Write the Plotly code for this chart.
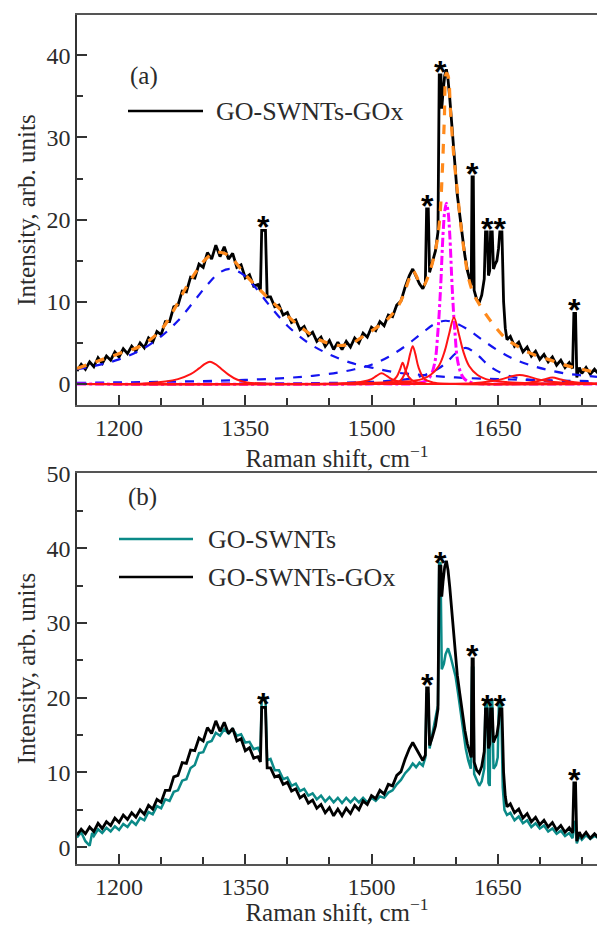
import plotly.graph_objects as go

# ---------------- data: GO-SWNTs-GOx spectrum ----------------
wn_gox = [1150, 1155, 1160, 1165, 1170, 1175, 1180, 1185, 1190, 1195, 1200, 1205, 1210, 1215, 1220,
          1225, 1230, 1235, 1240, 1245, 1250, 1255, 1260, 1265, 1270, 1275, 1280, 1285, 1290, 1295,
          1300, 1305, 1310, 1315, 1320, 1325, 1330, 1335, 1340, 1345, 1350, 1355, 1360, 1365, 1368,
          1369.5, 1374, 1376, 1380, 1385, 1390, 1395, 1400, 1405, 1410, 1415, 1420, 1425, 1430, 1435,
          1440, 1445, 1450, 1455, 1460, 1465, 1470, 1475, 1480, 1485, 1490, 1495, 1500, 1505, 1510,
          1515, 1520, 1525, 1530, 1535, 1540, 1545, 1549, 1553, 1557, 1561, 1564, 1565.5, 1567.5, 1569,
          1572, 1576, 1579, 1580.5, 1582.5, 1583.5, 1585, 1587, 1589, 1591, 1593, 1596, 1599, 1602, 1605,
          1608, 1611, 1614, 1617, 1618.5, 1619.5, 1621, 1622, 1625, 1628, 1631, 1634, 1635.5, 1637.5, 1639,
          1640.5, 1641.5, 1643.5, 1645, 1647, 1649, 1651, 1652.5, 1655, 1657, 1659, 1661, 1665, 1670, 1675,
          1680, 1685, 1690, 1695, 1700, 1705, 1710, 1715, 1720, 1725, 1730, 1735, 1739, 1740.5, 1742.5,
          1744, 1747, 1750, 1755, 1760, 1765, 1770]
int_gox = [1.6, 2.4, 1.8, 2.7, 2.1, 3.2, 2.5, 3.4, 2.9, 3.9, 3.3, 4.3, 3.7, 4.6, 4.0,
           5.0, 4.4, 5.6, 5.1, 6.4, 6.0, 7.6, 7.6, 9.4, 9.6, 11.3, 11.2, 13.0, 12.9, 14.6,
           14.2, 16.0, 15.2, 16.9, 15.5, 16.7, 15.2, 15.9, 14.2, 14.5, 12.9, 13.3, 11.9, 12.1, 11.4,
           18.7, 18.7, 10.6, 10.6, 9.4, 9.6, 8.4, 8.7, 7.5, 7.8, 6.6, 7.0, 5.9, 6.3, 5.2,
           5.7, 4.6, 5.3, 4.2, 5.1, 4.2, 5.2, 4.5, 5.6, 5.0, 6.2, 5.7, 6.9, 6.5, 7.6,
           7.1, 8.4, 8.2, 9.6, 10.1, 11.8, 13.2, 14.0, 13.2, 12.2, 11.6, 12.3, 21.3, 21.3, 13.6,
           14.6, 16.2, 18.5, 37.6, 37.6, 33.5, 35.5, 37.5, 38.3, 37.0, 34.8, 30.5, 26.5, 23.0, 20.5,
           17.8, 15.6, 13.8, 12.6, 12.0, 25.2, 25.2, 11.4, 10.3, 9.9, 10.8, 12.8, 18.5, 18.5, 13.2,
           13.8, 18.5, 18.5, 14.0, 14.6, 15.0, 16.5, 18.5, 18.5, 10.0, 6.8, 5.4, 5.8, 4.6, 5.1,
           3.9, 4.5, 3.4, 4.0, 3.0, 3.6, 2.7, 3.3, 2.3, 2.9, 2.0, 2.6, 1.9, 8.6, 8.6,
           0.8, 2.0, 1.3, 2.0, 1.2, 1.8, 1.2]

# ---------------- data: GO-SWNTs spectrum ----------------
wn_go = [1150, 1155, 1160, 1165, 1168, 1170, 1175, 1180, 1185, 1190, 1195, 1200, 1205, 1210, 1215,
         1220, 1225, 1230, 1235, 1240, 1245, 1250, 1255, 1260, 1265, 1270, 1275, 1280, 1285, 1290,
         1295, 1300, 1305, 1310, 1315, 1320, 1325, 1330, 1335, 1340, 1345, 1350, 1355, 1360, 1365,
         1368, 1369.5, 1374, 1376, 1380, 1385, 1390, 1395, 1400, 1405, 1410, 1415, 1420, 1425, 1430,
         1435, 1440, 1445, 1450, 1455, 1460, 1465, 1470, 1475, 1480, 1485, 1490, 1495, 1500, 1505,
         1510, 1515, 1520, 1525, 1530, 1535, 1540, 1545, 1549, 1553, 1557, 1561, 1564, 1565.5, 1567.5,
         1569, 1572, 1576, 1579, 1580.5, 1582, 1583.5, 1586, 1588, 1591, 1594, 1597, 1600, 1603, 1606,
         1609, 1612, 1615, 1618, 1619.5, 1621, 1622, 1625, 1628, 1631, 1634, 1635.5, 1637.5, 1639, 1640.5,
         1641.5, 1643.5, 1645, 1648, 1650, 1651.5, 1654, 1656, 1658, 1661, 1665, 1670, 1675, 1680, 1685,
         1690, 1695, 1700, 1705, 1710, 1715, 1720, 1725, 1730, 1735, 1739, 1740.5, 1742, 1744, 1747,
         1750, 1755, 1760, 1765, 1770]
int_go = [1.3, 2.0, 0.8, 0.2, 1.9, 1.5, 2.4, 1.9, 2.6, 2.1, 2.8, 2.3, 3.1, 2.7, 3.5,
          3.0, 3.9, 3.6, 4.7, 4.4, 5.5, 5.2, 6.4, 6.2, 7.4, 7.6, 8.9, 9.1, 10.6, 11.0,
          12.6, 12.7, 14.0, 14.2, 15.3, 14.9, 15.8, 15.2, 15.8, 14.9, 15.1, 14.0, 14.1, 13.1, 13.3,
          12.6, 20.0, 20.0, 11.6, 11.8, 10.3, 10.3, 9.1, 9.3, 8.2, 8.5, 7.5, 7.8, 6.9, 7.2,
          6.4, 6.9, 6.1, 6.7, 6.0, 6.6, 5.9, 6.6, 6.0, 6.6, 6.0, 6.6, 6.0, 6.6, 6.2,
          6.8, 6.6, 7.3, 7.6, 8.4, 9.0, 9.9, 10.5, 11.2, 10.7, 11.3, 10.9, 12.0, 20.5, 20.5,
          13.2, 14.8, 17.0, 19.0, 38.0, 38.0, 23.8, 24.5, 25.8, 26.6, 25.5, 24.2, 22.8, 20.5, 17.8,
          15.4, 13.2, 11.6, 10.5, 24.0, 24.0, 9.8, 8.9, 8.2, 8.8, 10.5, 19.6, 19.6, 8.6, 8.2,
          19.6, 19.6, 10.5, 11.0, 12.0, 19.6, 19.6, 8.0, 5.0, 4.3, 4.6, 3.6, 4.1, 3.2, 3.6,
          2.7, 3.2, 2.5, 2.9, 2.1, 2.5, 1.8, 2.2, 1.5, 1.9, 1.2, 3.5, 3.0, 0.5, 1.5,
          1.0, 1.6, 1.1, 1.5, 1.2]

# ---------------- fit: cumulative (orange dashed) ----------------
fit_sum_x = [1150, 1175, 1200, 1225, 1250, 1265, 1280, 1295, 1305, 1315, 1325, 1335, 1350, 1365, 1380,
             1400, 1420, 1440, 1460, 1475, 1490, 1505, 1520, 1530, 1538, 1544, 1549, 1554, 1558, 1562,
             1567, 1572, 1577, 1581, 1584, 1586.5, 1589, 1591, 1594, 1598, 1602, 1606, 1611, 1616, 1622,
             1630, 1640, 1650, 1660, 1675, 1690, 1710, 1730, 1750, 1768]
fit_sum_y = [1.9, 2.8, 3.7, 4.6, 6.6, 9.0, 11.8, 14.2, 15.4, 16.0, 15.9, 15.2, 13.3, 11.7, 10.2,
             8.3, 6.6, 5.3, 4.7, 4.9, 5.8, 6.8, 8.0, 9.2, 10.8, 12.6, 13.8, 13.0, 12.0, 12.0,
             13.0, 14.6, 16.8, 20.0, 25.5, 32.0, 37.8, 37.5, 33.0, 27.5, 23.5, 19.5, 15.5, 12.6, 10.8,
             9.4, 7.9, 6.6, 5.5, 4.5, 3.7, 3.0, 2.3, 1.8, 1.4]

# ---------------- fit: blue dashed components ----------------
blue_d_x = [1150, 1175, 1200, 1225, 1250, 1270, 1290, 1305, 1320, 1332, 1345, 1360, 1380, 1400, 1425,
            1450, 1475, 1500, 1530, 1560, 1600, 1650, 1700, 1768]
blue_d_y = [1.8, 2.3, 3.0, 4.1, 5.8, 7.7, 10.2, 12.1, 13.6, 14.0, 13.5, 12.0, 9.4, 7.1, 5.0,
            3.6, 2.6, 2.0, 1.4, 1.1, 0.8, 0.6, 0.48, 0.33]
blue_g1_x = [1150, 1200, 1250, 1300, 1350, 1400, 1430, 1460, 1480, 1500, 1520, 1540, 1560, 1575, 1588,
             1600, 1615, 1630, 1650, 1670, 1690, 1710, 1730, 1750, 1768]
blue_g1_y = [0.15, 0.2, 0.27, 0.36, 0.5, 0.75, 1.0, 1.4, 1.8, 2.35, 3.3, 4.6, 6.2, 7.3, 7.7,
             7.4, 6.6, 5.5, 4.1, 3.0, 2.25, 1.7, 1.3, 1.05, 0.88]
blue_g2_x = [1150, 1300, 1400, 1450, 1500, 1530, 1550, 1565, 1580, 1590, 1600, 1612, 1625, 1640, 1655,
             1670, 1690, 1720, 1768]
blue_g2_y = [0.02, 0.04, 0.08, 0.13, 0.26, 0.46, 0.75, 1.16, 1.9, 2.72, 3.72, 4.4, 3.62, 2.2, 1.31,
             0.83, 0.5, 0.28, 0.14]

# ---------------- fit: red solid components ----------------
red_1_x = [1150, 1230, 1255, 1270, 1285, 1295, 1302, 1308, 1314, 1321, 1330, 1340, 1352, 1380, 1450, 1768]
red_1_y = [0.0, 0.08, 0.3, 0.6, 1.2, 1.9, 2.45, 2.7, 2.45, 1.9, 1.15, 0.55, 0.2, 0.05, 0.0, 0.0]
red_2_x = [1150, 1450, 1470, 1490, 1500, 1506, 1512, 1518, 1524, 1535, 1560, 1620, 1768]
red_2_y = [0.0, 0.02, 0.1, 0.3, 0.6, 1.0, 1.3, 1.0, 0.6, 0.25, 0.05, 0.0, 0.0]
red_3_x = [1150, 1500, 1515, 1525, 1530, 1534, 1537, 1540, 1544, 1550, 1565, 1600, 1768]
red_3_y = [0.0, 0.02, 0.1, 0.4, 0.9, 1.8, 2.6, 1.8, 0.9, 0.35, 0.05, 0.0, 0.0]
red_4_x = [1150, 1500, 1525, 1535, 1542, 1546, 1549, 1552, 1556, 1563, 1575, 1600, 1768]
red_4_y = [0.0, 0.03, 0.1, 0.5, 2.0, 3.7, 4.6, 3.7, 2.0, 0.6, 0.15, 0.0, 0.0]
red_5_x = [1150, 1450, 1540, 1560, 1570, 1580, 1587, 1592, 1598, 1604, 1609, 1616, 1626, 1636, 1660,
           1700, 1768]
red_5_y = [0.0, 0.05, 0.3, 0.6, 1.1, 2.2, 4.0, 6.0, 8.1, 6.0, 4.0, 2.2, 1.1, 0.6, 0.25,
           0.1, 0.03]
red_6_x = [1150, 1580, 1620, 1640, 1655, 1665, 1676, 1687, 1697, 1712, 1735, 1768]
red_6_y = [0.0, 0.02, 0.1, 0.3, 0.6, 0.9, 1.1, 0.9, 0.6, 0.3, 0.12, 0.05]
red_7_x = [1150, 1640, 1680, 1695, 1705, 1715, 1725, 1735, 1750, 1768]
red_7_y = [0.0, 0.02, 0.1, 0.3, 0.55, 0.8, 0.55, 0.3, 0.12, 0.05]

# ---------------- fit: magenta dash-dot component ----------------
mag_x = [1150, 1500, 1560, 1569, 1575, 1579, 1582, 1585, 1587, 1589, 1591, 1593, 1596, 1599, 1603,
         1609, 1618, 1680, 1768]
mag_y = [0.0, 0.02, 0.2, 0.8, 2.5, 6.5, 11.5, 18.2, 21.0, 22.0, 21.0, 18.2, 11.5, 6.5, 2.5,
         0.8, 0.2, 0.02, 0.0]

# ---------------- starred lines (position, search half-window, label) ----------------
star_x_a = [1372, 1566.5, 1581.5, 1620, 1645, 1741.5]
star_w_a = [3, 2, 2, 2, 11, 2]
star_t_a = ["*", "*", "*", "*", "**", "*"]
star_x_b = [1372, 1566.5, 1581.5, 1620, 1645, 1741.5]
star_w_b = [3, 2, 2, 2, 11, 2]
star_t_b = ["*", "*", "*", "*", "**", "*"]

legend_a = ["GO-SWNTs-GOx"]
legend_b = ["GO-SWNTs", "GO-SWNTs-GOx"]

# ---------------- styles ----------------
SERIF = "Liberation Serif, Times New Roman, serif"
TXT = "#2b2b2b"
BLACK = "#000000"
TEAL = "#0B8A88"
BLUE = "#1414F0"
RED = "#FF1414"
MAG = "#FF00FF"
ORANGE = "#FF8A1C"

fig = go.Figure()

def add(x, y, color, width, dash="solid", shape="linear", xa="x", ya="y"):
    fig.add_trace(go.Scatter(x=x, y=y, mode="lines", xaxis=xa, yaxis=ya, showlegend=False,
                             line=dict(color=color, width=width, dash=dash, shape=shape,
                                       smoothing=1.0 if shape == "spline" else None),
                             hoverinfo="skip"))

# panel (a)
add(wn_gox, int_gox, BLACK, 2.8)
for bx, by in [(blue_d_x, blue_d_y), (blue_g1_x, blue_g1_y), (blue_g2_x, blue_g2_y)]:
    add(bx, by, BLUE, 2.2, "dash", "spline")
add(mag_x, mag_y, MAG, 3.0, "dashdot", "spline")
for rx, ry in [(red_1_x, red_1_y), (red_2_x, red_2_y), (red_3_x, red_3_y), (red_4_x, red_4_y),
               (red_5_x, red_5_y), (red_6_x, red_6_y), (red_7_x, red_7_y)]:
    add(rx, ry, RED, 2.0, "solid", "spline")
add(fit_sum_x, fit_sum_y, ORANGE, 3.2, "dash", "spline")

# panel (b)
add(wn_go, int_go, TEAL, 2.5, xa="x2", ya="y2")
add(wn_gox, int_gox, BLACK, 2.8, xa="x2", ya="y2")

# geometry (paper coords)
T, B = 15, 62
H = 926 - T - B
def py(p):
    return (926 - B - p) / H
def px(p):
    return (p - 77) / 520

annotations = []
shapes = []

def stars(xs, ws, ts, wn, it, xref, yref):
    for sx, sw, st in zip(xs, ws, ts):
        peak = max(v for w, v in zip(wn, it) if abs(w - sx) <= sw)
        annotations.append(dict(x=sx, y=peak, xref=xref, yref=yref, text=st,
                                showarrow=False, yanchor="middle", yshift=3,
                                font=dict(family="Liberation Sans", size=32, color=BLACK,
                                          weight="bold")))

stars(star_x_a, star_w_a, star_t_a, wn_gox, int_gox, "x", "y")
stars(star_x_b, star_w_b, star_t_b, wn_gox, int_gox, "x2", "y2")

# panel labels
annotations.append(dict(x=px(128), y=py(60), xref="paper", yref="paper", text="(a)", showarrow=False,
                        font=dict(family=SERIF, size=25, color=TXT)))
annotations.append(dict(x=px(126), y=py(497), xref="paper", yref="paper", text="(b)", showarrow=False,
                        font=dict(family=SERIF, size=25, color=TXT)))

# legends
def legend_item(x0, x1, yp, color, label, tx):
    shapes.append(dict(type="line", xref="paper", yref="paper", x0=px(x0), x1=px(x1),
                       y0=py(yp), y1=py(yp), line=dict(color=color, width=2.5)))
    annotations.append(dict(x=px(tx), y=py(yp), xref="paper", yref="paper", text=label,
                            showarrow=False, xanchor="left", yanchor="middle",
                            font=dict(family=SERIF, size=26, color=TXT)))

legend_item(128, 203, 111, BLACK, legend_a[0], 214)
legend_item(119, 193, 539, TEAL, legend_b[0], 206)
legend_item(119, 193, 577, BLACK, legend_b[1], 206)

xcommon = dict(range=[1150, 1768], tick0=1200, dtick=150, ticks="inside", ticklen=10, tickwidth=1.5,
               tickcolor="#333", minor=dict(dtick=50, tick0=1200, ticks="inside", ticklen=7,
                                            tickwidth=1.5, tickcolor="#333"),
               showline=True, linecolor="#555", linewidth=2, mirror=True, showgrid=False,
               zeroline=False, tickfont=dict(family=SERIF, size=24, color=TXT),
               title=dict(text="Raman shift, cm<sup>\u22121</sup>", standoff=4,
                          font=dict(family=SERIF, size=25, color=TXT)))
ycommon = dict(tick0=0, dtick=10, ticks="inside", ticklen=10, tickwidth=1.5, tickcolor="#333",
               minor=dict(dtick=5, ticks="inside", ticklen=6, tickwidth=1.5, tickcolor="#333"),
               showline=True, linecolor="#333", linewidth=1.5, mirror=False, showgrid=False,
               zeroline=False, tickfont=dict(family=SERIF, size=24, color=TXT),
               title=dict(text="Intensity, arb. units", standoff=4,
                          font=dict(family=SERIF, size=25, color=TXT)))

fig.update_layout(
    width=597, height=926,
    margin=dict(l=77, r=0, t=T, b=B),
    paper_bgcolor="white", plot_bgcolor="white",
    font=dict(family=SERIF, color=TXT),
    xaxis=dict(domain=[0, 1], anchor="y", **xcommon),
    yaxis=dict(domain=[py(405), 1], anchor="x", range=[-2.55, 44.9], **ycommon),
    xaxis2=dict(domain=[0, 1], anchor="y2", **xcommon),
    yaxis2=dict(domain=[0, py(473)], anchor="x2", range=[-2.25, 50.05], **ycommon),
    annotations=annotations, shapes=shapes, showlegend=False,
)

fig.write_html("out.html")
